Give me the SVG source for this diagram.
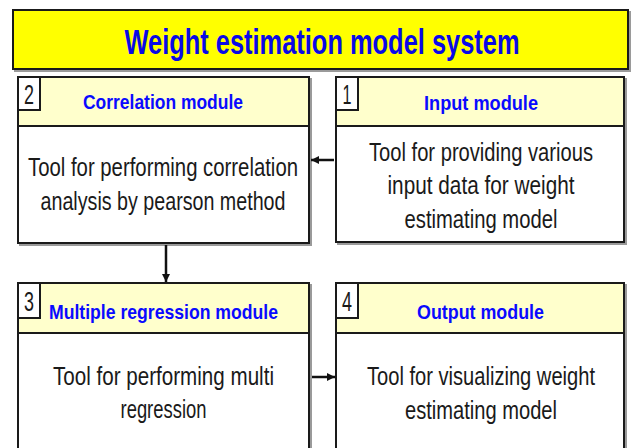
<svg xmlns="http://www.w3.org/2000/svg" width="632" height="448" viewBox="0 0 632 448">
<style>
.shadow{fill:none;stroke:#9a9a9a;stroke-width:2}
.box{fill:#ffffff;stroke:#1a1a1a;stroke-width:2}
.hdr{fill:#ffffcc;stroke:#1a1a1a;stroke-width:2}
.num{fill:#ffffff;stroke:#1a1a1a;stroke-width:2}
.title{font-family:"Liberation Sans",Arial,sans-serif;font-weight:bold;font-size:35px;fill:#0a0ae6}
.head{font-family:"Liberation Sans",Arial,sans-serif;font-weight:bold;font-size:21px;fill:#0a0aff}
.body{font-family:"Liberation Sans",Arial,sans-serif;font-size:25px;fill:#1a1a1a}
.digit{font-family:"Liberation Sans",Arial,sans-serif;font-size:27px;fill:#1a1a1a}
.conn{stroke:#111;stroke-width:2.5;fill:none}
</style>
<defs>
<marker id="ah" viewBox="0 0 10 10" refX="10" refY="5" markerWidth="3.2" markerHeight="3.2" orient="auto" markerUnits="strokeWidth">
<path d="M0,0 L10,5 L0,10 z" fill="#111"/>
</marker>
</defs>
<rect width="632" height="448" fill="#ffffff"/>

<g id="title">
<rect x="15" y="12" width="615" height="59" class="shadow"/>
<rect x="13" y="10" width="615" height="59" fill="#ffff00" stroke="#1a1a1a" stroke-width="2"/>
<text x="322" y="54" text-anchor="middle" class="title" textLength="395" lengthAdjust="spacingAndGlyphs">Weight estimation model system</text>
</g>

<g id="module2">
<rect x="20" y="79" width="291" height="166" class="shadow"/>
<rect x="18" y="77" width="291" height="166" class="box"/>
<rect x="18" y="77" width="291" height="49" class="hdr"/>
<rect x="18" y="77" width="22" height="33" class="num"/>
<text x="29" y="104" text-anchor="middle" class="digit" textLength="10" lengthAdjust="spacingAndGlyphs">2</text>
<text x="163" y="109" text-anchor="middle" class="head" textLength="160" lengthAdjust="spacingAndGlyphs">Correlation module</text>
<text x="163" y="176" text-anchor="middle" class="body" textLength="270" lengthAdjust="spacingAndGlyphs">Tool for performing correlation</text>
<text x="163" y="210" text-anchor="middle" class="body" textLength="245" lengthAdjust="spacingAndGlyphs">analysis by pearson method</text>
</g>

<g id="module1">
<rect x="338" y="79" width="288" height="165" class="shadow"/>
<rect x="336" y="77" width="288" height="165" class="box"/>
<rect x="336" y="77" width="288" height="49" class="hdr"/>
<rect x="336" y="77" width="22" height="33" class="num"/>
<text x="347" y="104" text-anchor="middle" class="digit" textLength="9" lengthAdjust="spacingAndGlyphs">1</text>
<text x="481" y="110" text-anchor="middle" class="head" textLength="114" lengthAdjust="spacingAndGlyphs">Input module</text>
<text x="481" y="161" text-anchor="middle" class="body" textLength="224" lengthAdjust="spacingAndGlyphs">Tool for providing various</text>
<text x="481" y="194" text-anchor="middle" class="body" textLength="187" lengthAdjust="spacingAndGlyphs">input data for weight</text>
<text x="481" y="228" text-anchor="middle" class="body" textLength="153" lengthAdjust="spacingAndGlyphs">estimating model</text>
</g>

<g id="module3">
<rect x="20" y="285" width="291" height="180" class="shadow"/>
<rect x="18" y="283" width="291" height="180" class="box"/>
<rect x="18" y="283" width="291" height="50" class="hdr"/>
<rect x="18" y="283" width="22" height="35" class="num"/>
<text x="29" y="311" text-anchor="middle" class="digit" textLength="10" lengthAdjust="spacingAndGlyphs">3</text>
<text x="163.5" y="319" text-anchor="middle" class="head" textLength="229" lengthAdjust="spacingAndGlyphs">Multiple regression module</text>
<text x="163.5" y="385" text-anchor="middle" class="body" textLength="221" lengthAdjust="spacingAndGlyphs">Tool for performing multi</text>
<text x="163.5" y="418" text-anchor="middle" class="body" textLength="86" lengthAdjust="spacingAndGlyphs">regression</text>
</g>

<g id="module4">
<rect x="338" y="285" width="288" height="180" class="shadow"/>
<rect x="336" y="283" width="288" height="180" class="box"/>
<rect x="336" y="283" width="288" height="50" class="hdr"/>
<rect x="336" y="283" width="22" height="35" class="num"/>
<text x="347" y="311" text-anchor="middle" class="digit" textLength="10" lengthAdjust="spacingAndGlyphs">4</text>
<text x="480.5" y="319" text-anchor="middle" class="head" textLength="127" lengthAdjust="spacingAndGlyphs">Output module</text>
<text x="481" y="385" text-anchor="middle" class="body" textLength="228" lengthAdjust="spacingAndGlyphs">Tool for visualizing weight</text>
<text x="481" y="419" text-anchor="middle" class="body" textLength="152" lengthAdjust="spacingAndGlyphs">estimating model</text>
</g>

<g id="connectors">
<line x1="334" y1="160" x2="311" y2="160" class="conn" marker-end="url(#ah)"/>
<line x1="166" y1="245" x2="166" y2="282" class="conn" marker-end="url(#ah)"/>
<line x1="312" y1="377" x2="335" y2="377" class="conn" marker-end="url(#ah)"/>
</g>
</svg>
